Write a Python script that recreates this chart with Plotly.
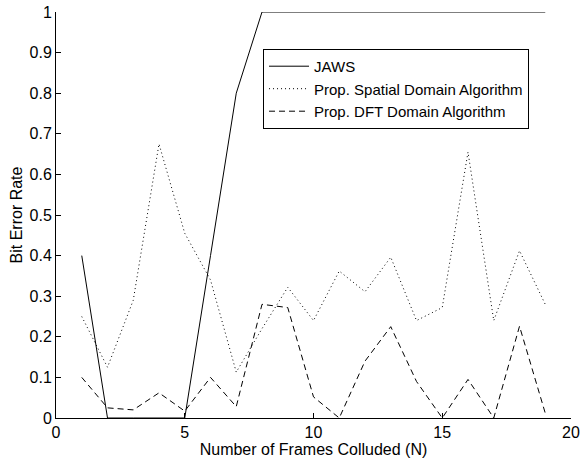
import plotly.graph_objects as go

frames = list(range(1, 20))
jaws = [0.40, 0.0, 0.0, 0.0, 0.0, 0.40, 0.80, 1.0, 1.0, 1.0, 1.0, 1.0, 1.0, 1.0, 1.0, 1.0, 1.0, 1.0, 1.0]
spatial = [0.25, 0.125, 0.29, 0.675, 0.455, 0.34, 0.113, 0.22, 0.322, 0.24, 0.362, 0.311, 0.396, 0.24, 0.272, 0.655, 0.24, 0.412, 0.28]
dft = [0.10, 0.025, 0.02, 0.062, 0.017, 0.10, 0.028, 0.28, 0.272, 0.052, 0.0, 0.14, 0.225, 0.09, 0.0, 0.095, 0.0, 0.226, 0.012]

x_ticks = [0, 5, 10, 15, 20]
y_ticks = [0, 0.1, 0.2, 0.3, 0.4, 0.5, 0.6, 0.7, 0.8, 0.9, 1]
y_labels = ["0", "0.1", "0.2", "0.3", "0.4", "0.5", "0.6", "0.7", "0.8", "0.9", "1"]

FONT = "Liberation Sans, Arial, Helvetica, sans-serif"

fig = go.Figure()
fig.add_trace(go.Scatter(x=frames, y=jaws, mode="lines", name="JAWS",
                         line=dict(color="black", width=1)))
fig.add_trace(go.Scatter(x=frames, y=spatial, mode="lines", name="Prop. Spatial Domain Algorithm",
                         line=dict(color="black", width=1, dash="1px,3px")))
fig.add_trace(go.Scatter(x=frames, y=dft, mode="lines", name="Prop. DFT Domain Algorithm",
                         line=dict(color="black", width=1, dash="6px,4px")))

fig.update_layout(
    width=580, height=458,
    margin=dict(l=56, r=9, t=12, b=40),
    paper_bgcolor="white", plot_bgcolor="white",
    font=dict(family=FONT, size=16, color="black"),
    showlegend=True,
    legend=dict(x=0.402, y=0.909, xanchor="left", yanchor="top",
                bgcolor="white", bordercolor="black", borderwidth=1,
                font=dict(family=FONT, size=15, color="black"),
                tracegroupgap=0, itemwidth=40),
    xaxis=dict(range=[0, 20], tickmode="array", tickvals=x_ticks,
               ticks="inside", ticklen=5, tickcolor="black",
               showline=True, linecolor="black", linewidth=1, mirror=False,
               showgrid=False, zeroline=False, automargin=False,
               ticklabeloverflow="allow",
               title=dict(text="Number of Frames Colluded (N)", standoff=0,
                          font=dict(family=FONT, size=16)),
               tickfont=dict(family=FONT, size=16)),
    yaxis=dict(range=[0, 1], tickmode="array", tickvals=y_ticks, ticktext=y_labels,
               ticks="inside", ticklen=5, tickcolor="black",
               showline=True, linecolor="black", linewidth=1, mirror=False,
               showgrid=False, zeroline=False, automargin=False,
               ticklabeloverflow="allow",
               title=dict(text="Bit Error Rate", standoff=2,
                          font=dict(family=FONT, size=16)),
               tickfont=dict(family=FONT, size=16)),
)

# Remove the default page margin so the 580x458 figure fills the window exactly.
fig.write_html("out.html", config={"displayModeBar": False},
               post_script="document.body.style.margin='0px';")
